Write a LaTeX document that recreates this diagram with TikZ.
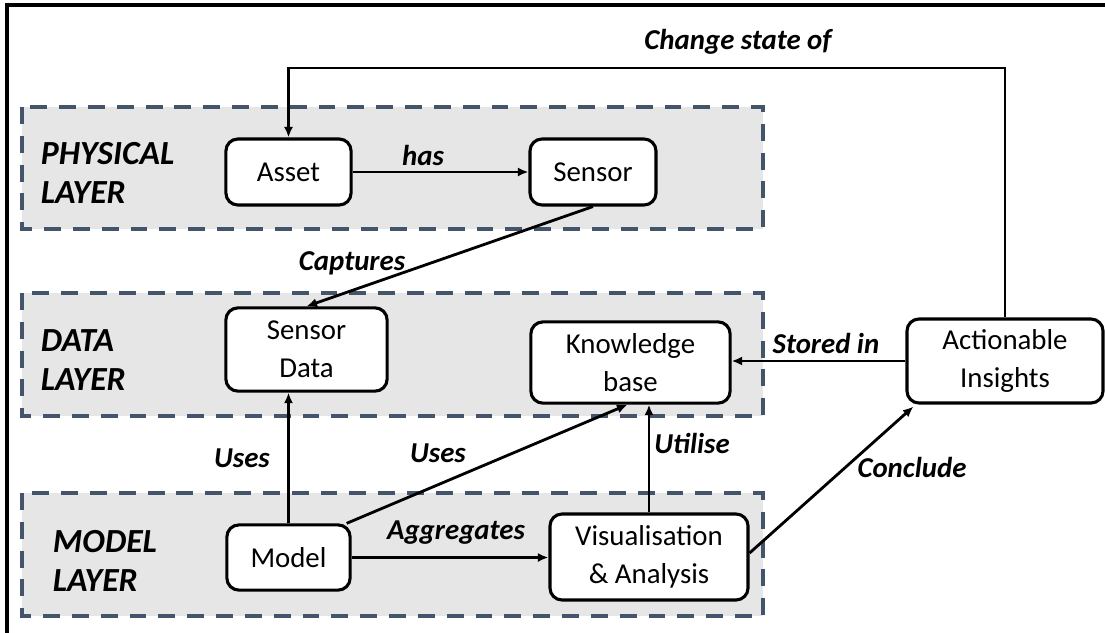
\documentclass[tikz,border=0pt]{standalone}
\usepackage{fontspec}
\setmainfont{Carlito}
\definecolor{layerblue}{RGB}{68, 84, 106}
\definecolor{layergray}{RGB}{231, 230, 230}
\usetikzlibrary{arrows.meta, calc}
\tikzset{
    layerbox/.style={draw=layerblue, fill=layergray, line width=2.8pt,
                     dash pattern=on 12pt off 8.5pt},
    compbox/.style={rectangle, rounded corners=0.3cm, draw=black, fill=white,
                    line width=2.2pt, align=center, inner sep=0pt,
                    font=\fontsize{20.5}{27}\selectfont},
    layerlabel/.style={anchor=west, align=left,
                       font=\fontsize{24}{27.7}\selectfont\bfseries\itshape},
    edgelabel/.style={inner sep=0pt, font=\fontsize{20.5}{23}\selectfont\bfseries\itshape},
    arrow/.style={-{Latex[length=7.5pt, width=6.5pt]}, line width=2pt, black},
}

\begin{document}
\begin{tikzpicture}[x=0.025cm, y=-0.025cm]
    \useasboundingbox (0,0) rectangle (1105,632);
    % Outer frame
    \draw[line width=2.2pt] (7,5) rectangle (1115,645);

    % Layers
    \draw[layerbox] (22,107) rectangle (763,229);
    \draw[layerbox] (22,293) rectangle (763,416);
    \draw[layerbox] (22,493) rectangle (763,616);
    \node[layerlabel] (physical) at (36,173) {PHYSICAL\\LAYER};
    \node[layerlabel] (data) at (36,360) {DATA\\LAYER};
    \node[layerlabel] (modellayer) at (48,561) {MODEL\\LAYER};

    % Components
    \node[compbox, minimum width=3.13cm, minimum height=1.65cm] (asset) at (288.5,172) {Asset};
    \node[compbox, minimum width=3.15cm, minimum height=1.65cm] (sensor) at (593,172) {Sensor};
    \node[compbox, minimum width=4.03cm, minimum height=2.08cm] (sdata) at (306.5,349.5) {Sensor\\Data};
    \node[compbox, minimum width=4.98cm, minimum height=2.03cm] (kb) at (630.5,362.5) {Knowledge\\base};
    \node[compbox, minimum width=4.9cm, minimum height=2.1cm] (act) at (1005,361) {Actionable\\Insights};
    \node[compbox, minimum width=3.08cm, minimum height=1.63cm] (model) at (288.5,557.5) {Model};
    \node[compbox, minimum width=4.95cm, minimum height=2.15cm] (vis) at (649,557) {Visualisation\\\& Analysis};

    % Connectors
    \coordinate (top) at (0,68);
    \draw[arrow] (act.north) -- (act.north |- top) -- (asset.north |- top) -- (asset.north);
    \draw[arrow] (asset.east) -- (sensor.west);
    \draw[arrow] (sensor.south) -- (sdata.north);
    \draw[arrow] (act.west) -- (act.west -| kb.east);
    \draw[arrow] (model.north) -- (model.north |- sdata.south);
    \draw[arrow] ($(model.north east)+(-5,0)$) -- ($(kb.south)+(-3,0)$);
    \draw[arrow] (vis.north) -- (vis.north |- kb.south);
    \draw[arrow] (model.east) -- (model.east -| vis.west);
    \draw[arrow] ($(vis.east)+(0,-4)$) -- ($(act.south west)+(8,2)$);

    % Labels
    \node[edgelabel] (lchange) at (738,42) {Change state of};
    \node[edgelabel] (lhas) at (423,155) {has};
    \node[edgelabel] (lcapt) at (352,263) {Captures};
    \node[edgelabel] (lstored) at (826,343) {Stored in};
    \node[edgelabel] (luses) at (242,458) {Uses};
    \node[edgelabel] (luseskb) at (438,453) {Uses};
    \node[edgelabel] (lutil) at (692,443) {Utilise};
    \node[edgelabel] (lagg) at (456,533) {Aggregates};
    \node[edgelabel] (lconc) at (912,467) {Conclude};
\end{tikzpicture}
\end{document}
